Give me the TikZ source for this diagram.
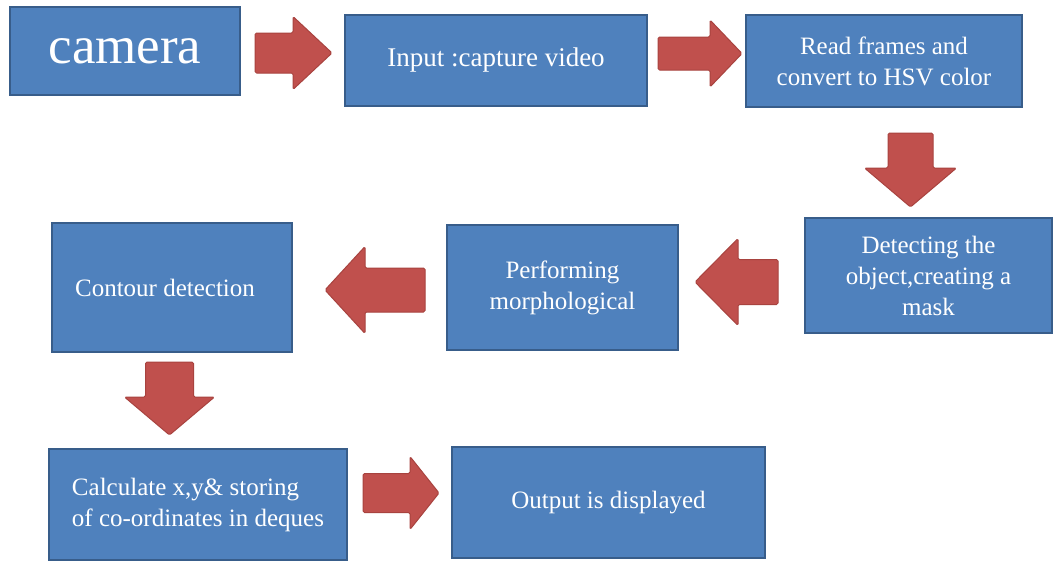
\documentclass[tikz,border=0pt]{standalone}
\usepackage{fontspec}
\setmainfont{Liberation Serif}
\definecolor{boxblue}{HTML}{4F81BD}
\definecolor{boxedge}{HTML}{385D8A}
\definecolor{arrowred}{HTML}{C0504D}
\definecolor{arrowedge}{HTML}{A8433F}
\tikzset{
  stepbox/.style={draw=boxedge, line width=2pt, fill=boxblue, text=white,
    inner sep=0pt, align=center, font=\fontsize{25}{31}\selectfont},
  boxsize/.style 2 args={minimum width=#1pt, minimum height=#2pt},
  redarrow/.style={fill=arrowred, draw=arrowedge, line width=1pt,
    rounded corners=1.5pt, line join=round}
}
% block arrow: centre, angle, length, shaft, head, head length
\newcommand{\blockarrow}[6]{%
  \draw[redarrow, shift={#1}, rotate=#2]
    (-#3/2,-#4/2) -- (#3/2-#6,-#4/2) -- (#3/2-#6,-#5/2) -- (#3/2,0)
    -- (#3/2-#6,#5/2) -- (#3/2-#6,#4/2) -- (-#3/2,#4/2) -- cycle;}
\begin{document}
\begin{tikzpicture}[x=1pt, y=-1pt]
\useasboundingbox[fill=white] (0,0) rectangle (1053,562);
% boxes
\node[stepbox, boxsize={230}{88}, font=\fontsize{53}{60}\selectfont] (cam) at (125,51) {camera};
\node[stepbox, boxsize={302}{91}, font=\fontsize{27}{31}\selectfont] (inp) at (496,60.5) {Input :capture video};
\node[stepbox, boxsize={276}{92}] (rd) at (884,61) {Read frames and\\convert to HSV color};
\node[stepbox, boxsize={247}{115}] (det) at (928.5,275.5) {Detecting the\\object,creating a\\mask};
\node[stepbox, boxsize={231}{125}] (perf) at (562.5,287.5) {Performing\\morphological};
\node[stepbox, boxsize={240}{129}] (cont) at (172,287.5) {Contour detection\hspace{14pt}};
\node[stepbox, boxsize={298}{111}, align=left] (calc) at (198,504.5) {Calculate x,y\& storing\\of co-ordinates in deques};
\node[stepbox, boxsize={313}{111}] (out) at (608.5,502.5) {Output is displayed};
% arrows
\blockarrow{(293.5,53)}{0}{77}{40}{73}{39}
\blockarrow{(700,53.5)}{0}{84}{33}{67}{32}
\blockarrow{(910.5,170)}{-90}{74}{45}{92}{39}
\blockarrow{(736.5,282)}{180}{83}{45}{87}{43}
\blockarrow{(375,290)}{180}{100}{44}{87}{40}
\blockarrow{(169.5,398.5)}{-90}{73}{48}{90}{38}
\blockarrow{(401,493)}{0}{76}{39}{73}{29}
\end{tikzpicture}
\end{document}
